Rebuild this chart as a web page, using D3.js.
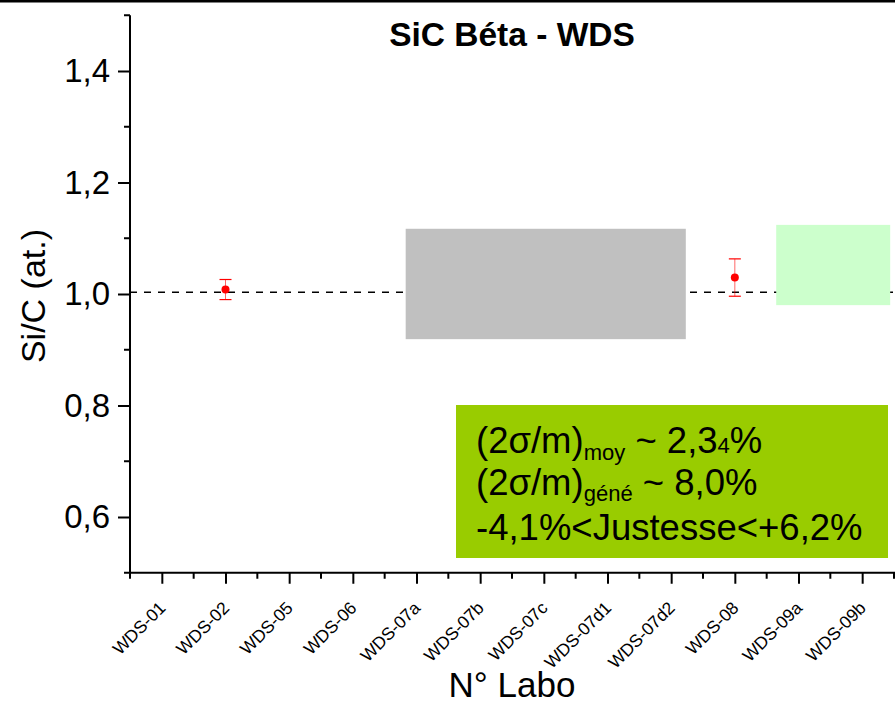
<!DOCTYPE html>
<html><head><meta charset="utf-8">
<script src="https://cdn.jsdelivr.net/npm/d3@7"></script>
<style>
body{margin:0;background:#fff;}
svg{display:block;font-family:Arial,"Liberation Sans",sans-serif;}
</style></head>
<body>
<script>
// ---- data ----
const categories = ["WDS-01","WDS-02","WDS-05","WDS-06","WDS-07a","WDS-07b","WDS-07c","WDS-07d1","WDS-07d2","WDS-08","WDS-09a","WDS-09b"];
const pointLabels = ["WDS-02","WDS-08"];
const pointValues = [1.008, 1.0295];
const pointErrors = [0.018, 0.0335];
const referenceValue = 1.003;
const bandX0 = [4.83, 10.65];
const bandX1 = [9.23, 12.44];
const bandY0 = [0.919, 0.980];
const bandY1 = [1.117, 1.124];
const bandColors = ["#c0c0c0", "#ccffcc"];
const yMajorTicks = [0.6, 0.8, 1.0, 1.2, 1.4];
const yMinorTicks = [0.5, 0.7, 0.9, 1.1, 1.3, 1.5];
const title = "SiC Béta - WDS";
const xTitle = "N° Labo";
const yTitle = "Si/C (at.)";

const W = 895, H = 708;
const svg = d3.select("body").append("svg").attr("width", W).attr("height", H);

const x = d3.scaleLinear().domain([0.5, 12.5]).range([130, 894]);
const y = d3.scaleLinear().domain([0.5, 1.5]).range([572.75, 15.25]);
const idx = c => categories.indexOf(c) + 1;

// top frame line
svg.append("rect").attr("x", 0).attr("y", 0).attr("width", W).attr("height", 2.5).attr("fill", "#000");

// reference dashed line
svg.append("line")
  .attr("x1", x(0.5)).attr("x2", x(12.5))
  .attr("y1", y(referenceValue)).attr("y2", y(referenceValue))
  .attr("stroke", "#000").attr("stroke-width", 1.5).attr("stroke-dasharray", "7,7");

// bands
bandX0.forEach((d, i) => {
  svg.append("rect")
    .attr("x", x(bandX0[i])).attr("width", x(bandX1[i]) - x(bandX0[i]))
    .attr("y", y(bandY1[i])).attr("height", y(bandY0[i]) - y(bandY1[i]))
    .attr("fill", bandColors[i]);
});

// error bars and points
pointLabels.forEach((lab, i) => {
  const cx = x(idx(lab));
  const top = y(pointValues[i] + pointErrors[i]);
  const bot = y(pointValues[i] - pointErrors[i]);
  svg.append("line").attr("x1", cx).attr("x2", cx).attr("y1", top).attr("y2", bot)
    .attr("stroke", "#ff0000").attr("stroke-width", 1).attr("stroke-opacity", 0.6);
  [top, bot].forEach(yy => svg.append("line").attr("x1", cx - 6).attr("x2", cx + 6)
    .attr("y1", yy).attr("y2", yy).attr("stroke", "#ff0000").attr("stroke-width", 1.2));
  svg.append("circle").attr("cx", cx).attr("cy", y(pointValues[i])).attr("r", 4).attr("fill", "#ff0000");
});

// annotation box
const box = svg.append("g");
box.append("rect").attr("x", 456).attr("y", 405).attr("width", 432).attr("height", 153).attr("fill", "#99cc00");
const fs = 36.5, sub = 22;
const t1 = box.append("text").attr("x", 476).attr("y", 453).attr("font-size", fs).attr("fill", "#000");
t1.append("tspan").text("(2σ/m)");
t1.append("tspan").attr("font-size", sub).attr("dy", 7).text("moy");
t1.append("tspan").attr("dy", -7).text(" ~ 2,3");
t1.append("tspan").attr("font-size", sub).text("4");
t1.append("tspan").text("%");
const t2 = box.append("text").attr("x", 476).attr("y", 495).attr("font-size", fs).attr("fill", "#000");
t2.append("tspan").text("(2σ/m)");
t2.append("tspan").attr("font-size", sub).attr("dy", 6).text("géné");
t2.append("tspan").attr("dy", -6).text(" ~ 8,0%");
box.append("text").attr("x", 476).attr("y", 540).attr("font-size", fs).attr("fill", "#000")
  .text("-4,1%<Justesse<+6,2%");

// Y axis
const yAxis = svg.append("g").attr("transform", "translate(130,0)");
yAxis.call(d3.axisLeft(y).tickValues(yMajorTicks).tickSize(12).tickPadding(8)
  .tickFormat(d => d3.format(".1f")(d).replace(".", ",")));
yAxis.select(".domain").remove();
yAxis.selectAll(".tick line").attr("stroke-width", 2);
yAxis.selectAll(".tick text").attr("font-size", 33).attr("font-family", "Arial,'Liberation Sans',sans-serif").attr("fill", "#000");
yAxis.selectAll(".minor").data(yMinorTicks).enter().append("line")
  .attr("x1", -6).attr("x2", 0).attr("y1", d => y(d)).attr("y2", d => y(d))
  .attr("stroke", "#000").attr("stroke-width", 2);
yAxis.append("line").attr("x1", 0).attr("x2", 0).attr("y1", y(1.5)).attr("y2", y(0.5) + 1)
  .attr("stroke", "#000").attr("stroke-width", 2);

// X axis
const xAxis = svg.append("g").attr("transform", `translate(0,${y(0.5)})`);
xAxis.call(d3.axisBottom(x).tickValues(d3.range(1, categories.length + 1)).tickSize(11)
  .tickFormat(d => categories[d - 1]));
xAxis.select(".domain").remove();
xAxis.selectAll(".tick line").attr("stroke-width", 2);
xAxis.selectAll(".tick text")
  .attr("font-size", 17.5).attr("font-family", "Arial,'Liberation Sans',sans-serif").attr("fill", "#000")
  .attr("text-anchor", "end").attr("dy", "0.35em")
  .attr("transform", "translate(0,32) rotate(-45)").attr("y", 0).attr("x", 0);
xAxis.selectAll(".minor").data(d3.range(0.5, 13, 1)).enter().append("line")
  .attr("x1", d => x(d)).attr("x2", d => x(d)).attr("y1", 0).attr("y2", 6)
  .attr("stroke", "#000").attr("stroke-width", 2);
xAxis.append("line").attr("x1", x(0.5) - 1).attr("x2", W).attr("y1", 0).attr("y2", 0)
  .attr("stroke", "#000").attr("stroke-width", 2);

// titles
svg.append("text").attr("x", 512).attr("y", 46).attr("text-anchor", "middle")
  .attr("font-size", 33.5).attr("font-weight", "bold").text(title);
svg.append("text").attr("x", 512).attr("y", 697).attr("text-anchor", "middle")
  .attr("font-size", 35).text(xTitle);
svg.append("text").attr("transform", "translate(45,296) rotate(-90)").attr("text-anchor", "middle")
  .attr("font-size", 34).text(yTitle);
</script>
</body></html>
